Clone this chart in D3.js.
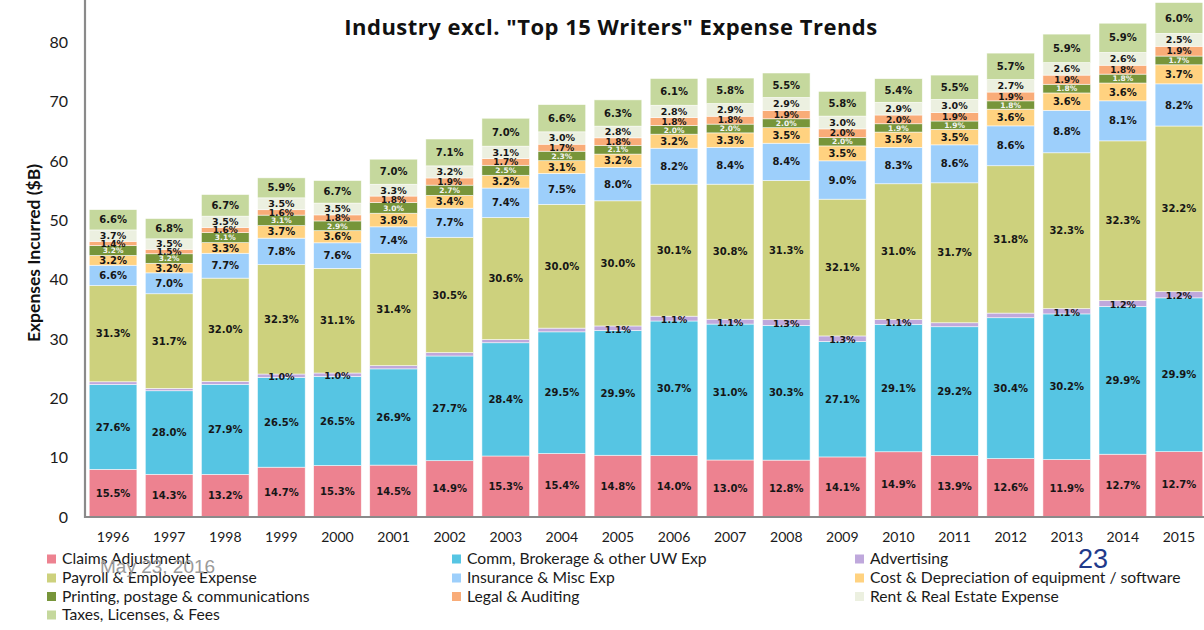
<!DOCTYPE html>
<html>
<head>
<meta charset="utf-8">
<script src="https://cdn.jsdelivr.net/npm/d3@7"></script>
<style>
  html, body { margin: 0; padding: 0; background: #fff; }
  svg { display: block; }
</style>
</head>
<body>
<svg id="chart" width="1204" height="630"></svg>
<script>
// Expense totals ($B) and each category's share of the year's total (%)
const years = [1996, 1997, 1998, 1999, 2000, 2001, 2002, 2003, 2004, 2005,
               2006, 2007, 2008, 2009, 2010, 2011, 2012, 2013, 2014, 2015];
const totals = [51.8, 50.3, 54.4, 57.1, 56.7, 60.3, 63.7, 67.2, 69.5, 70.3,
                73.9, 73.9, 74.9, 71.8, 73.8, 74.4, 78.1, 81.3, 83.3, 86.7];

const claimsAdjustment = [15.5, 14.3, 13.2, 14.7, 15.3, 14.5, 14.9, 15.3, 15.4, 14.8,
                          14.0, 13.0, 12.8, 14.1, 14.9, 13.9, 12.6, 11.9, 12.7, 12.7];
const commBrokerage = [27.6, 28.0, 27.9, 26.5, 26.5, 26.9, 27.7, 28.4, 29.5, 29.9,
                       30.7, 31.0, 30.3, 27.1, 29.1, 29.2, 30.4, 30.2, 29.9, 29.9];
const advertising = [0.9, 0.8, 0.9, 1.0, 1.0, 0.9, 0.9, 0.8, 0.9, 1.1,
                     1.1, 1.1, 1.3, 1.3, 1.1, 0.9, 1.0, 1.1, 1.2, 1.2];
const advertisingLabelled = [false, false, false, true, true, false, false, false, false, true,
                             true, true, true, true, true, false, false, true, true, true];
const payroll = [31.3, 31.7, 32.0, 32.3, 31.1, 31.4, 30.5, 30.6, 30.0, 30.0,
                 30.1, 30.8, 31.3, 32.1, 31.0, 31.7, 31.8, 32.3, 32.3, 32.2];
const insuranceMisc = [6.6, 7.0, 7.7, 7.8, 7.6, 7.4, 7.7, 7.4, 7.5, 8.0,
                       8.2, 8.4, 8.4, 9.0, 8.3, 8.6, 8.6, 8.8, 8.1, 8.2];
const equipment = [3.2, 3.2, 3.3, 3.7, 3.6, 3.8, 3.4, 3.2, 3.1, 3.2,
                   3.2, 3.3, 3.5, 3.5, 3.5, 3.5, 3.6, 3.6, 3.6, 3.7];
const printing = [3.2, 3.2, 3.1, 3.1, 2.9, 3.0, 2.7, 2.5, 2.3, 2.1,
                  2.0, 2.0, 2.0, 2.0, 1.9, 1.9, 1.8, 1.8, 1.8, 1.7];
const legal = [1.4, 1.5, 1.6, 1.6, 1.8, 1.8, 1.9, 1.7, 1.7, 1.8,
               1.8, 1.8, 1.9, 2.0, 2.0, 1.9, 1.9, 1.9, 1.8, 1.9];
const rent = [3.7, 3.5, 3.5, 3.5, 3.5, 3.3, 3.2, 3.1, 3.0, 2.8,
              2.8, 2.9, 2.9, 3.0, 2.9, 3.0, 2.7, 2.6, 2.6, 2.5];
const taxes = [6.6, 6.8, 6.7, 5.9, 6.7, 7.0, 7.1, 7.0, 6.6, 6.3,
               6.1, 5.8, 5.5, 5.8, 5.4, 5.5, 5.7, 5.9, 5.9, 6.0];

const seriesNames = [
  "Claims Adjustment", "Comm, Brokerage & other UW Exp", "Advertising",
  "Payroll & Employee Expense", "Insurance & Misc Exp",
  "Cost & Depreciation of equipment / software",
  "Printing, postage & communications", "Legal & Auditing",
  "Rent & Real Estate Expense", "Taxes, Licenses, & Fees"
];
const seriesShares = [claimsAdjustment, commBrokerage, advertising, payroll, insuranceMisc,
                      equipment, printing, legal, rent, taxes];
const seriesColors = ["#ed8290", "#56c5e3", "#bfa8dc", "#cdd17d", "#9dcffb",
                      "#ffd280", "#77953a", "#f9ac78", "#ecf0e0", "#c5d89d"];
const yTicks = [0, 10, 20, 30, 40, 50, 60, 70, 80];

// Rows of dollar amounts per category, derived from total x share
const rows = years.map((yr, i) => {
  const row = { year: yr };
  seriesNames.forEach((name, s) => { row[name] = totals[i] * seriesShares[s][i] / 100; });
  return row;
});
const stacked = d3.stack().keys(seriesNames)(rows);

const svg = d3.select("#chart");

const x = d3.scaleBand()
  .domain(years)
  .range([85, 1207])
  .paddingInner(0.15)
  .paddingOuter(0.075);

const y = d3.scaleLinear()
  .domain([0, 80])
  .range([517, 42.3]);

// Bars
const layers = svg.append("g").selectAll("g")
  .data(stacked)
  .join("g")
  .attr("fill", (d, i) => seriesColors[i]);

layers.selectAll("rect")
  .data(d => d)
  .join("rect")
  .attr("x", d => x(d.data.year))
  .attr("width", x.bandwidth())
  .attr("y", d => y(d[1]))
  .attr("height", d => y(d[0]) - y(d[1]))
  .attr("stroke", "#ffffff")
  .attr("stroke-opacity", 0.75)
  .attr("stroke-width", 0.7);

// Percentage labels inside each segment
const labelSize = [10, 10, 9.5, 10, 10, 10, 7.5, 9, 9.5, 10];
const labelColor = ["#161616", "#161616", "#161616", "#161616", "#161616",
                    "#161616", "#f4f4f4", "#161616", "#161616", "#161616"];
const labelG = svg.append("g")
  .attr("font-family", "'DejaVu Sans', Verdana, sans-serif")
  .attr("font-weight", "bold")
  .attr("text-anchor", "middle");

stacked.forEach((layer, s) => {
  layer.forEach((d, i) => {
    if (s === 2 && !advertisingLabelled[i]) return;
    const cy = (y(d[0]) + y(d[1])) / 2 + (s === 2 ? 1 : 0);
    labelG.append("text")
      .attr("x", x(d.data.year) + x.bandwidth() / 2)
      .attr("y", cy)
      .attr("dy", "0.36em")
      .attr("font-size", labelSize[s])
      .attr("fill", labelColor[s])
      .text(seriesShares[s][i].toFixed(1) + "%");
  });
});

// Axes
const yAxis = svg.append("g")
  .attr("transform", "translate(85,0)")
  .call(d3.axisLeft(y).tickValues(yTicks).tickSize(0).tickPadding(17));
yAxis.select(".domain").remove();
yAxis.selectAll("text")
  .attr("font-family", "Lato, 'Open Sans', sans-serif")
  .attr("font-size", 16)
  .attr("fill", "#1a1a1a");

const xAxis = svg.append("g")
  .attr("transform", "translate(0,517)")
  .call(d3.axisBottom(x).tickSize(0).tickPadding(15));
xAxis.select(".domain").remove();
xAxis.selectAll("text")
  .attr("font-family", "Lato, 'Open Sans', sans-serif")
  .attr("font-size", 14)
  .attr("fill", "#1a1a1a");

// Axis lines
svg.append("line")
  .attr("x1", 85).attr("x2", 85).attr("y1", 0).attr("y2", 518)
  .attr("stroke", "#8a8a8a").attr("stroke-width", 2.2);
svg.append("line")
  .attr("x1", 84).attr("x2", 1204).attr("y1", 517).attr("y2", 517)
  .attr("stroke", "#8a8a8a").attr("stroke-width", 2.2);

// Title
svg.append("text")
  .attr("x", 611).attr("y", 35)
  .attr("text-anchor", "middle")
  .attr("font-family", "'Open Sans', Lato, sans-serif")
  .attr("font-weight", "bold")
  .attr("font-size", 22)
  .attr("letter-spacing", 0.5)
  .attr("fill", "#111")
  .text('Industry excl. "Top 15 Writers" Expense Trends');

// Y axis title
svg.append("text")
  .attr("transform", "translate(40,253) rotate(-90)")
  .attr("text-anchor", "middle")
  .attr("font-family", "Lato, 'Open Sans', sans-serif")
  .attr("font-weight", "bold")
  .attr("font-size", 17.5)
  .attr("fill", "#111")
  .text("Expenses Incurred ($B)");

// Legend: three columns, filled row by row
const legendCols = [47, 452, 855];
const legendRows = [559, 578, 596.5, 615];
const legend = svg.append("g")
  .attr("font-family", "Lato, 'Open Sans', sans-serif")
  .attr("font-size", 15.7)
  .attr("fill", "#1a1a1a");
seriesNames.forEach((name, i) => {
  const cx = legendCols[i % 3];
  const cy = legendRows[Math.floor(i / 3)];
  legend.append("rect")
    .attr("x", cx).attr("y", cy - 4.5)
    .attr("width", 9).attr("height", 9)
    .attr("fill", seriesColors[i]);
  legend.append("text")
    .attr("x", cx + 15).attr("y", cy)
    .attr("dy", "0.35em")
    .text(name);
});

// Slide footer date and page number
svg.append("text")
  .attr("x", 100).attr("y", 573)
  .attr("font-family", "'Liberation Sans', Arial, sans-serif")
  .attr("font-size", 19)
  .attr("fill", "#9a9a9a")
  .text("May 23, 2016");
svg.append("text")
  .attr("x", 1078).attr("y", 568)
  .attr("font-family", "'Liberation Sans', Arial, sans-serif")
  .attr("font-size", 27)
  .attr("fill", "#1f3a8a")
  .text("23");
</script>
</body>
</html>
